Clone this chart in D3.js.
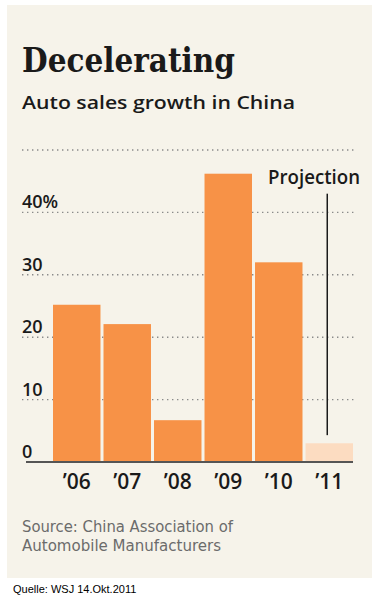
<!DOCTYPE html>
<html>
<head>
<meta charset="utf-8">
<script src="https://cdn.jsdelivr.net/npm/d3@7"></script>
<style>
  html, body { margin: 0; padding: 0; background: #fff; }
  svg { display: block; }
</style>
</head>
<body>
<svg id="chart" width="380" height="600"></svg>
<script>
// data
var years = ["’06", "’07", "’08", "’09", "’10", "’11"];
var growth = [25.2, 22.1, 6.7, 46.2, 32.0, 3.0];
var projected = [false, false, false, false, false, true];
var yTicks = [0, 10, 20, 30, 40];
var gridTicks = [10, 20, 30, 40, 50];

var data = years.map(function (y, i) {
    return { year: y, value: growth[i], projection: projected[i] };
});

var svg = d3.select("#chart");

// panel background
svg.append("rect")
    .attr("x", 7).attr("y", 5)
    .attr("width", 365).attr("height", 573)
    .attr("fill", "#f6f3ea");

// titles
svg.append("text")
    .attr("x", 22).attr("y", 72)
    .attr("font-family", "DejaVu Serif")
    .attr("font-weight", "bold")
    .attr("font-size", 34)
    .attr("textLength", 213)
    .attr("lengthAdjust", "spacingAndGlyphs")
    .attr("fill", "#1a1a1a")
    .text("Decelerating");

svg.append("text")
    .attr("x", 22).attr("y", 109)
    .attr("font-family", "Open Sans")
    .attr("font-weight", 600)
    .attr("font-size", 18)
    .attr("textLength", 273)
    .attr("lengthAdjust", "spacingAndGlyphs")
    .attr("fill", "#1a1a1a")
    .text("Auto sales growth in China");

var xScale = d3.scaleBand()
    .domain(years)
    .range([53, 353])
    .paddingInner(0.06)
    .paddingOuter(0);

var yScale = d3.scaleLinear()
    .domain([0, 50])
    .range([462, 150]);

// dotted grid
svg.append("g").selectAll("line")
    .data(gridTicks)
    .enter()
    .append("line")
    .attr("x1", 22).attr("x2", 356)
    .attr("y1", function (d) { return yScale(d); })
    .attr("y2", function (d) { return yScale(d); })
    .attr("stroke", "#8a8a8a")
    .attr("stroke-width", 1.4)
    .attr("stroke-dasharray", "1.4,3.6");

// y labels
svg.append("g").selectAll("text")
    .data(yTicks)
    .enter()
    .append("text")
    .attr("x", 22)
    .attr("y", function (d) { return yScale(d) - 4; })
    .attr("font-family", "Open Sans")
    .attr("font-weight", 600)
    .attr("font-size", 18)
    .attr("fill", "#1a1a1a")
    .text(function (d) { return d === 40 ? "40%" : d; });

// bars
svg.append("g").selectAll("rect")
    .data(data)
    .enter()
    .append("rect")
    .attr("x", function (d) { return xScale(d.year); })
    .attr("width", xScale.bandwidth())
    .attr("y", function (d) { return yScale(d.value); })
    .attr("height", function (d) { return yScale(0) - yScale(d.value); })
    .attr("fill", function (d) { return d.projection ? "#fcdcc1" : "#f79247"; });

// baseline
svg.append("line")
    .attr("x1", 26).attr("x2", 353)
    .attr("y1", yScale(0)).attr("y2", yScale(0))
    .attr("stroke", "#555")
    .attr("stroke-width", 2);

// x labels
svg.append("g").selectAll("text")
    .data(years)
    .enter()
    .append("text")
    .attr("x", function (d) { return xScale(d) + xScale.bandwidth() / 2; })
    .attr("y", 489)
    .attr("text-anchor", "middle")
    .attr("font-family", "Open Sans")
    .attr("font-weight", 600)
    .attr("font-size", 21)
    .attr("fill", "#1a1a1a")
    .text(function (d) { return d; });

// projection marker
var projX = xScale(years[5]) + xScale.bandwidth() / 2 - 2;
svg.append("line")
    .attr("x1", projX).attr("x2", projX)
    .attr("y1", yScale(43)).attr("y2", yScale(4.3))
    .attr("stroke", "#1a1a1a")
    .attr("stroke-width", 1.5);

svg.append("text")
    .attr("x", 268).attr("y", 184)
    .attr("font-family", "Open Sans")
    .attr("font-weight", 600)
    .attr("font-size", 20)
    .attr("textLength", 92)
    .attr("lengthAdjust", "spacingAndGlyphs")
    .attr("fill", "#1a1a1a")
    .text("Projection");

// source
svg.append("text")
    .attr("x", 22).attr("y", 532)
    .attr("font-family", "DejaVu Sans Condensed")
    .attr("font-size", 16)
    .attr("textLength", 211)
    .attr("lengthAdjust", "spacingAndGlyphs")
    .attr("fill", "#6b6b6b")
    .text("Source: China Association of");

svg.append("text")
    .attr("x", 22).attr("y", 551)
    .attr("font-family", "DejaVu Sans Condensed")
    .attr("font-size", 16)
    .attr("textLength", 199)
    .attr("lengthAdjust", "spacingAndGlyphs")
    .attr("fill", "#6b6b6b")
    .text("Automobile Manufacturers");

svg.append("text")
    .attr("x", 13).attr("y", 593)
    .attr("font-family", "Liberation Sans")
    .attr("font-size", 11)
    .attr("fill", "#000")
    .text("Quelle: WSJ 14.Okt.2011");
</script>
</body>
</html>
